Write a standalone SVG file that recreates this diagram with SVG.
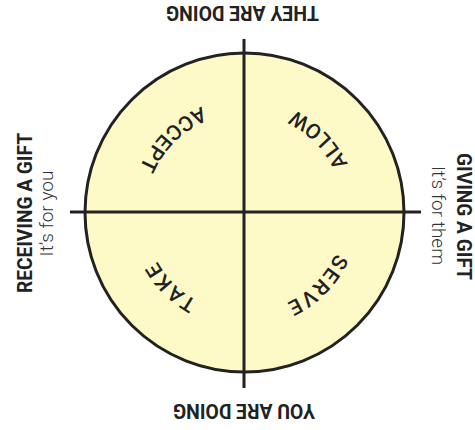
<svg xmlns="http://www.w3.org/2000/svg" width="475" height="430" viewBox="0 0 475 430">
<style>
.lbl{font-family:Roboto,"Liberation Sans",sans-serif;font-weight:bold;font-size:20.5px;fill:#222;text-anchor:middle}
.sub{font-family:Roboto,"Liberation Sans",sans-serif;font-weight:300;font-size:19px;fill:#333;text-anchor:middle}
.arc{font-family:Roboto,"Liberation Sans",sans-serif;font-weight:500;font-size:21px;fill:#222;letter-spacing:2px}
.ln{stroke:#222;stroke-width:3;fill:none;stroke-linecap:butt}
</style>
<defs>
<path id="pAccept" d="M 244.5 98.5 A 114 114 0 0 0 130.5 212.5"/>
<path id="pAllow" d="M 358.5 212.5 A 114 114 0 0 0 244.5 98.5"/>
<path id="pTake" d="M 244.5 312.5 A 100 100 0 0 1 144.5 212.5"/>
<path id="pServe" d="M 344.5 212.5 A 100 100 0 0 1 244.5 312.5"/>
</defs>
<rect width="475" height="430" fill="#fff"/>
<g id="circle">
<circle cx="244.5" cy="212.5" r="159.5" fill="#FEFAC8" stroke="#222" stroke-width="3"/>
</g>
<g id="connectors">
<line class="ln" x1="244" y1="39" x2="244" y2="388"/>
<line class="ln" x1="70" y1="212" x2="421" y2="212"/>
</g>
<g id="accept"><text class="arc"><textPath href="#pAccept" startOffset="50%" text-anchor="middle">ACCEPT</textPath></text></g>
<g id="allow"><text class="arc"><textPath href="#pAllow" startOffset="50%" text-anchor="middle">ALLOW</textPath></text></g>
<g id="take"><text class="arc"><textPath href="#pTake" startOffset="50%" text-anchor="middle">TAKE</textPath></text></g>
<g id="serve"><text class="arc"><textPath href="#pServe" startOffset="50%" text-anchor="middle">SERVE</textPath></text></g>
<g id="top"><text class="lbl" transform="translate(242.5,5.5) rotate(180)" textLength="153" lengthAdjust="spacingAndGlyphs">THEY ARE DOING</text></g>
<g id="bottom"><text class="lbl" transform="translate(244,403.5) rotate(180)" textLength="142" lengthAdjust="spacingAndGlyphs">YOU ARE DOING</text></g>
<g id="left">
<text class="lbl" transform="translate(32,213) rotate(-90)" textLength="160" lengthAdjust="spacingAndGlyphs">RECEIVING A GIFT</text>
<text class="sub" transform="translate(53,213.5) rotate(-90)">It’s for you</text>
</g>
<g id="right">
<text class="lbl" transform="translate(457,216.5) rotate(90)" textLength="127" lengthAdjust="spacingAndGlyphs">GIVING A GIFT</text>
<text class="sub" transform="translate(432,215.5) rotate(90)">It’s for them</text>
</g>
</svg>
